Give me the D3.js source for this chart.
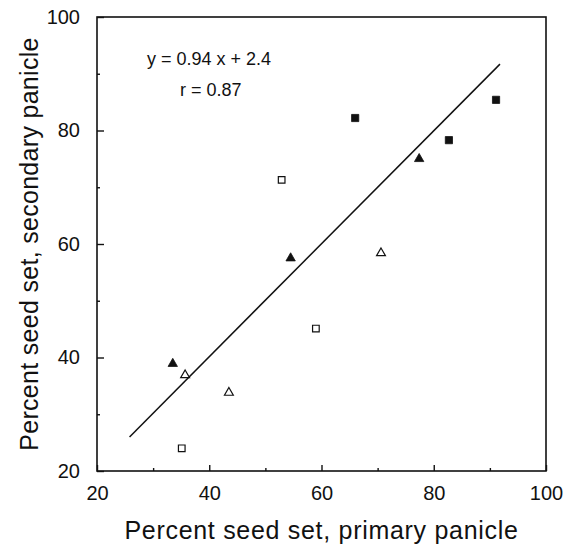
<!DOCTYPE html>
<html>
<head>
<meta charset="utf-8">
<script src="https://cdn.jsdelivr.net/npm/d3@7"></script>
<style>
  body { margin: 0; background: #fff; }
  text { font-family: "Liberation Sans", Arial, sans-serif; fill: #111; }
</style>
</head>
<body>
<div id="chart"></div>
<script>
// data
var filledSqX = [66, 82.7, 91.1];
var filledSqY = [82.2, 78.3, 85.4];
var filledTriX = [33.5, 54.5, 77.4];
var filledTriY = [38.9, 57.5, 75.0];
var openSqX = [35.1, 52.9, 59.0];
var openSqY = [24.0, 71.3, 45.1];
var openTriX = [35.7, 43.5, 70.6];
var openTriY = [36.9, 33.8, 58.4];

var fitX = [25.8, 91.8];
var fitY = [26.0, 91.7];

var majorTicks = [20, 40, 60, 80, 100];
var minorTicks = [30, 50, 70, 90];

var svgWidth = 572;
var svgHeight = 548;
var margin = { top: 17, right: 26, bottom: 77, left: 97 };
var width = svgWidth - margin.left - margin.right;
var height = svgHeight - margin.top - margin.bottom;

var svg = d3.select("#chart")
  .append("svg")
  .attr("width", svgWidth)
  .attr("height", svgHeight);

var chartGroup = svg.append("g")
  .attr("transform", `translate(${margin.left}, ${margin.top})`);

var xScale = d3.scaleLinear().domain([20, 100]).range([0, width]);
var yScale = d3.scaleLinear().domain([20, 100]).range([height, 0]);

// frame
chartGroup.append("rect")
  .attr("width", width)
  .attr("height", height)
  .attr("fill", "none")
  .attr("stroke", "#111")
  .attr("stroke-width", 1.6);

// axes, ticks pointing inward
var bottomAxis = d3.axisBottom(xScale).tickValues(majorTicks)
  .tickSizeInner(-6).tickSizeOuter(0).tickPadding(15);
var leftAxis = d3.axisLeft(yScale).tickValues(majorTicks)
  .tickSizeInner(-7).tickSizeOuter(0).tickPadding(17);

chartGroup.append("g")
  .attr("transform", `translate(0, ${height})`)
  .call(bottomAxis);
chartGroup.append("g").call(leftAxis);

chartGroup.append("g")
  .attr("transform", `translate(0, ${height})`)
  .call(d3.axisBottom(xScale).tickValues(minorTicks).tickSizeInner(-3).tickSizeOuter(0).tickFormat(""));
chartGroup.append("g")
  .call(d3.axisLeft(yScale).tickValues(minorTicks).tickSizeInner(-3).tickSizeOuter(0).tickFormat(""));

chartGroup.selectAll(".domain").remove();
chartGroup.selectAll(".tick line").attr("stroke", "#111").attr("stroke-width", 1.4);
chartGroup.selectAll(".tick text")
  .attr("font-size", "20px")
  .attr("font-family", "Liberation Sans, Arial, sans-serif")
  .attr("fill", "#111");

// regression line
chartGroup.append("line")
  .attr("x1", xScale(fitX[0]))
  .attr("y1", yScale(fitY[0]))
  .attr("x2", xScale(fitX[1]))
  .attr("y2", yScale(fitY[1]))
  .attr("stroke", "#111")
  .attr("stroke-width", 1.5);

function addPoints(xs, ys, type, filled, size) {
  var pts = xs.map(function(x, i) { return { x: x, y: ys[i] }; });
  chartGroup.append("g")
    .selectAll("path")
    .data(pts)
    .enter()
    .append("path")
    .attr("d", d3.symbol().type(type).size(size))
    .attr("transform", d => `translate(${xScale(d.x)}, ${yScale(d.y)})`)
    .attr("fill", filled ? "#111" : "#fff")
    .attr("stroke", "#111")
    .attr("stroke-width", filled ? 0.8 : 1.2);
}

addPoints(openSqX, openSqY, d3.symbolSquare, false, 44);
addPoints(filledSqX, filledSqY, d3.symbolSquare, true, 52);
addPoints(openTriX, openTriY, d3.symbolTriangle, false, 34);
addPoints(filledTriX, filledTriY, d3.symbolTriangle, true, 38);

// equation
chartGroup.append("text")
  .attr("x", xScale(28.9))
  .attr("y", 48)
  .attr("font-size", "18px")
  .text("y = 0.94 x + 2.4");
chartGroup.append("text")
  .attr("x", xScale(34.8))
  .attr("y", 79)
  .attr("font-size", "18px")
  .text("r = 0.87");

// axis labels
svg.append("text")
  .attr("x", margin.left + width / 2)
  .attr("y", 539)
  .attr("text-anchor", "middle")
  .attr("font-size", "25px")
  .attr("letter-spacing", "0.7px")
  .text("Percent seed set, primary panicle");

svg.append("text")
  .attr("transform", "rotate(-90)")
  .attr("x", -(margin.top + height / 2))
  .attr("y", 38)
  .attr("text-anchor", "middle")
  .attr("font-size", "25px")
  .attr("letter-spacing", "0.3px")
  .text("Percent seed set, secondary panicle");
</script>
</body>
</html>
